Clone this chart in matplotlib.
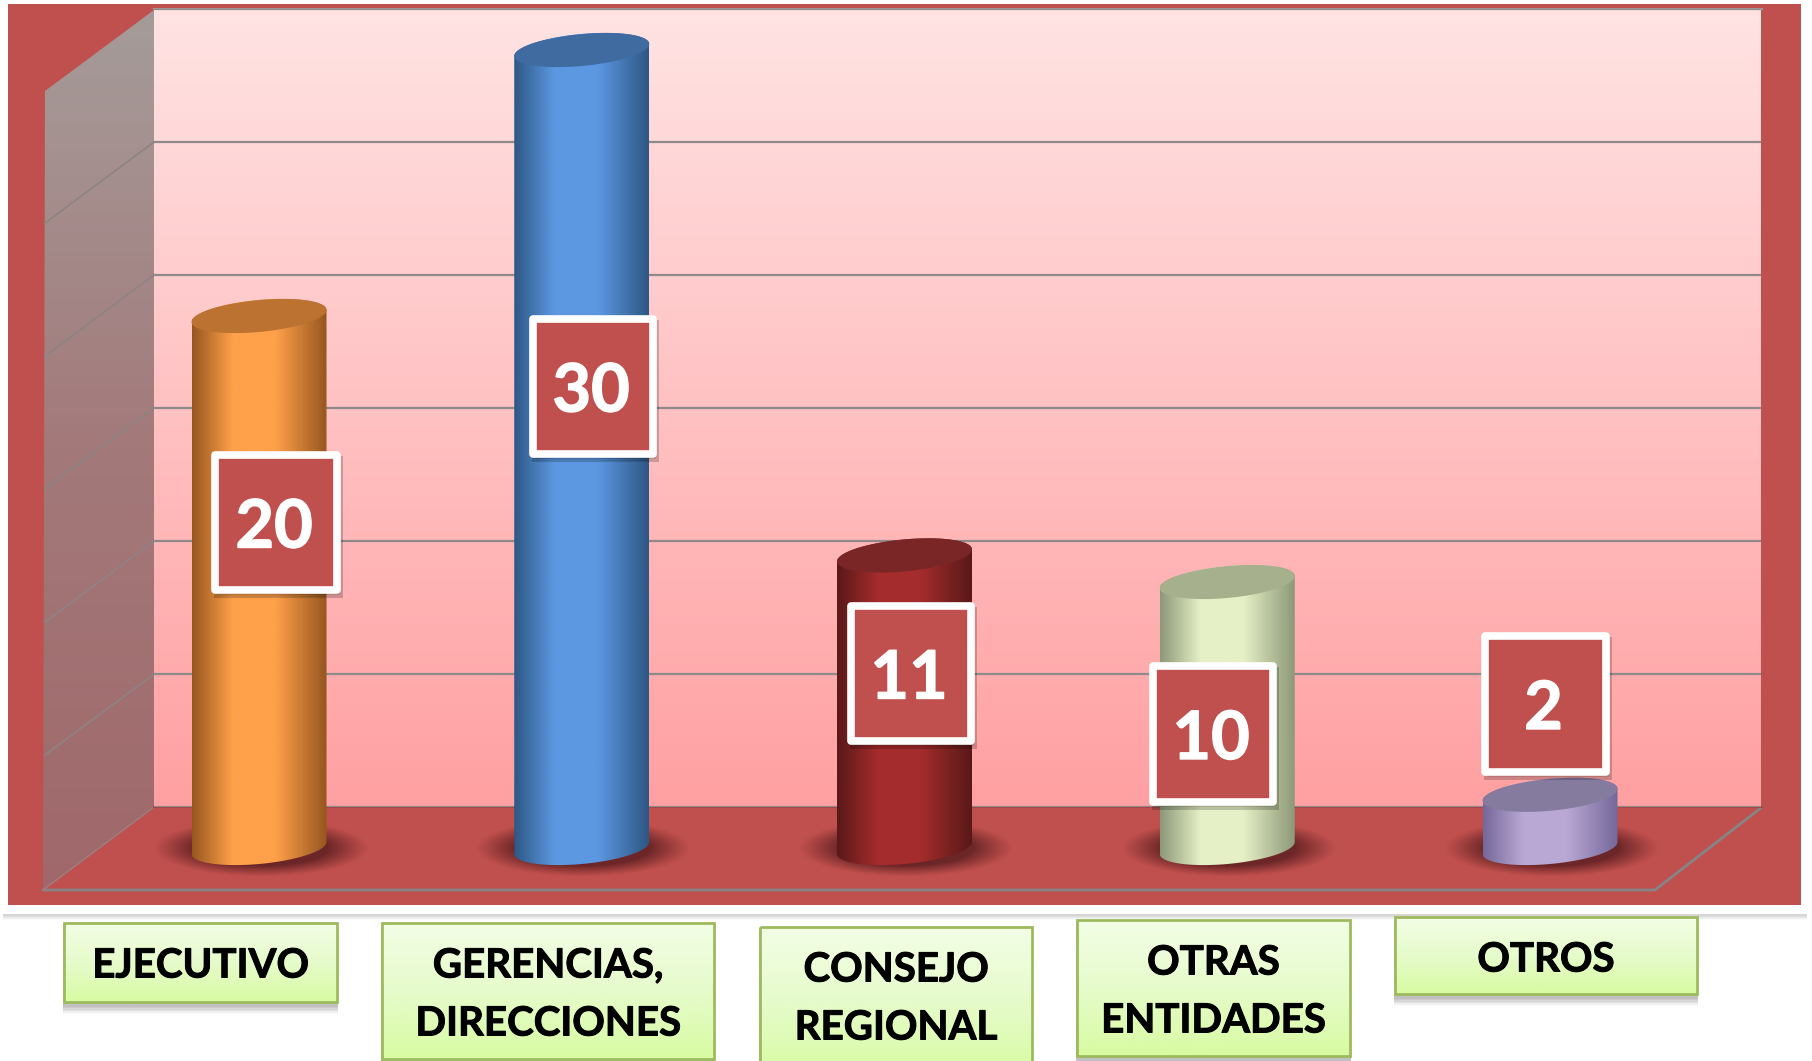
import numpy as np
import matplotlib
matplotlib.use('Agg')
import matplotlib.pyplot as plt
import matplotlib.patheffects as pe
from matplotlib.patches import Polygon, Rectangle
from matplotlib.colors import LinearSegmentedColormap

plt.rcParams['font.family'] = ['Lato', 'DejaVu Sans']

# datos
categorias = ['EJECUTIVO', 'GERENCIAS,\nDIRECCIONES', 'CONSEJO\nREGIONAL', 'OTRAS\nENTIDADES', 'OTROS']
valores = [20, 30, 11, 10, 2]
ticks = [0, 5, 10, 15, 20, 25, 30]

# colores de cada cilindro: borde, centro, tapa
bordes = ['#96561F', '#2E5784', '#5A1818', '#8C9878', '#74689A']
centros = ['#FFA04A', '#5C98E2', '#A42C2C', '#E6F0C6', '#BAA8D4']
tapas = ['#BC7230', '#3F6BA0', '#7A2626', '#A6B08D', '#857B9F']

ROJO = '#C0504D'
W, H = 1812, 1061

# cajas en pixeles (x0, x1, y0, y1)
cajas_valor = [(215, 337, 455, 590), (533, 653, 319, 454), (851, 971, 606, 741), (1153, 1273, 666, 802), (1485, 1606, 636, 772)]
cajas_cat = [(64, 337, 923, 1002), (382, 714, 923, 1059), (760, 1032, 927, 1075), (1077, 1350, 920, 1056), (1395, 1697, 917, 994)]


def axes_px(x0, x1, y0, y1):
    return [x0 / W, 1 - y1 / H, (x1 - x0) / W, (y1 - y0) / H]


fig = plt.figure(figsize=(W / 100, H / 100), dpi=100, facecolor='white')

# fondo en pixeles
bg = fig.add_axes([0, 0, 1, 1], zorder=0)
bg.set_xlim(0, W)
bg.set_ylim(H, 0)
bg.axis('off')
bg.set_autoscale_on(False)

grad = np.linspace(0, 1, 256)[:, None]
sombra = LinearSegmentedColormap.from_list('s', ['#FFFFFF', '#D2D2D2', '#FFFFFF'])
bg.imshow(grad, cmap=sombra, extent=(3, 1807, 920, 910), aspect='auto', zorder=1)
bg.add_patch(Rectangle((3, 2), 1804, 912, fc='white', ec='none', zorder=1.5))
bg.add_patch(Rectangle((8, 4), 1793, 901, fc=ROJO, ec='none', zorder=2))

# pared lateral
lat = LinearSegmentedColormap.from_list('l', ['#A59C9A', '#A3797A', '#A0686A'])
im = bg.imshow(grad, cmap=lat, extent=(43, 154, 890, 10), aspect='auto', zorder=3)
pared_lat = Polygon([(154, 10), (154, 807), (43, 890), (45, 91)], closed=True, fc='none', ec='none', zorder=3)
bg.add_patch(pared_lat)
im.set_clip_path(pared_lat)

# lineas del suelo
bg.plot([43, 1655, 1762], [890, 890, 807], color='#858585', lw=2, zorder=4, solid_capstyle='round')
bg.plot([43, 154], [890, 807], color='#9A8080', lw=1, zorder=4)
bg.plot([154, 1762], [807, 807], color='#A84644', lw=1.5, zorder=4)

# pared del fondo con su escala
pared = fig.add_axes(axes_px(154, 1761, 9, 807), zorder=1)
pared.set_autoscale_on(False)
pared.set_xlim(0, 1)
pared.set_ylim(ticks[0], ticks[-1])
fondo = LinearSegmentedColormap.from_list('f', ['#FFE3E3', '#FFA0A2'])
pared.imshow(grad, cmap=fondo, extent=(0, 1, 0, 30), aspect='auto', zorder=0)
pared.set_yticks(ticks)
pared.set_xticks([])
pared.tick_params(length=0, labelleft=False)
pared.grid(axis='y', color='#8E8A8A', lw=1.6, zorder=1)
pared.set_axisbelow(False)
for s in pared.spines.values():
    s.set_visible(False)

# lineas de la pared lateral
px_unidad = 798 / ticks[-1]
for t in ticks[1:]:
    y = 807 - t * px_unidad
    if t == ticks[-1]:
        continue
    bg.plot([154, 45], [y, y + 81], color='#8C8484', lw=1.2, zorder=4)
bg.plot([154, 1762], [9, 9], color='#A09898', lw=1.5, zorder=4)

# grafico: cada categoria es un cilindro
# el eje sobra por los lados para que no recorte los cilindros
px_x = (1550 - 259) / (len(valores) - 1)
ax = fig.add_axes(axes_px(259 - 0.8 * px_x, 1550 + 0.8 * px_x, 50 - 1.8 * px_unidad, 848 + 3 * px_unidad), zorder=2)
ax.patch.set_alpha(0)
ax.set_autoscale_on(False)
ax.set_xlim(-0.8, len(valores) - 1 + 0.8)
ax.set_ylim(-3, 31.8)
ax.axis('off')

a = 67.5 / px_x
b = 16 / px_unidad
incl = 0.089 * px_x / px_unidad

t_front = np.linspace(np.pi, 2 * np.pi, 60)
t_back = np.linspace(0, np.pi, 60)
t_all = np.linspace(0, 2 * np.pi, 120)


def elipse(cx, cy, tt):
    u = a * np.cos(tt)
    return cx + u, cy + incl * u + b * np.sin(tt)


# perfil de sombra
xx, yy = np.meshgrid(np.linspace(-1, 1, 200), np.linspace(-1, 1, 80))
rr = np.sqrt(xx ** 2 + yy ** 2)
alfa = np.clip((1 - rr) / 0.38, 0, 1) ** 1.1 * 0.72
sombra_rgba = np.zeros((80, 200, 4))
sombra_rgba[..., 0] = 0.3
sombra_rgba[..., 1] = 0.09
sombra_rgba[..., 2] = 0.1
sombra_rgba[..., 3] = alfa

perfil = np.linspace(0, 1, 256)
for i, v in enumerate(valores):
    # sombra en el suelo
    ax.imshow(sombra_rgba, extent=(i - 1.6 * a + 0.005, i + 1.6 * a + 0.005, -1.08, 1.08), aspect='auto', zorder=1,
              interpolation='bilinear')

    xb, yb = elipse(i, 0, t_front)
    xt, yt = elipse(i, v, t_back)
    cuerpo = Polygon(np.c_[np.r_[xb, xt], np.r_[yb, yt]], closed=True, fc='none', ec='none', zorder=2)
    ax.add_patch(cuerpo)
    cmap = LinearSegmentedColormap.from_list('c' + str(i), [(0, bordes[i]), (0.3, centros[i]), (0.62, centros[i]), (1, bordes[i])])
    g = ax.imshow(perfil[None, :], cmap=cmap, extent=(i - a, i + a, -1, v + 1), aspect='auto', zorder=2)
    g.set_clip_path(cuerpo)

    xe, ye = elipse(i, v, t_all)
    ax.add_patch(Polygon(np.c_[xe, ye], closed=True, fc=tapas[i], ec='none', zorder=3))

# capa superior: etiquetas
top = fig.add_axes([0, 0, 1, 1], zorder=3)
top.patch.set_alpha(0)
top.set_xlim(0, W)
top.set_ylim(H, 0)
top.axis('off')
top.set_autoscale_on(False)

for v, (x0, x1, y0, y1) in zip(valores, cajas_valor):
    top.add_patch(Rectangle((x0 + 2, y0 + 4), x1 - x0, y1 - y0, fc='#000000', alpha=0.2, ec='#000000', lw=5, zorder=1))
    top.add_patch(Rectangle((x0, y0), x1 - x0, y1 - y0, fc=ROJO, ec='white', lw=5.5, joinstyle='round', zorder=2))
    top.text((x0 + x1) / 2 - 2, (y0 + y1) / 2 + 6, str(v), color='white', fontsize=48, fontweight='bold',
             ha='center', va='center', zorder=3,
             path_effects=[pe.withStroke(linewidth=1, foreground='white')])

verde = LinearSegmentedColormap.from_list('v', ['#F3FEE6', '#E6FBCB', '#D8FBA2'])
for c, (x0, x1, y0, y1) in zip(categorias, cajas_cat):
    for k in range(5):
        top.add_patch(Rectangle((x0 - 1, y0 + 4), x1 - x0 + 2, y1 - y0 + 1 + k * 1.4, fc='#707070', alpha=0.1, ec='none', zorder=1))
    top.imshow(grad, cmap=verde, extent=(x0, x1, y1, y0), aspect='auto', zorder=2)
    top.add_patch(Rectangle((x0, y0), x1 - x0, y1 - y0, fc='none', ec='#9DBB5E', lw=2, zorder=3))
    partes = c.split('\n')
    for j, p in enumerate(partes):
        top.text((x0 + x1) / 2, y0 + 43 + j * 58, p, color='black', fontsize=29, fontweight='bold',
                 ha='center', va='center', zorder=4,
                 path_effects=[pe.withStroke(linewidth=0.7, foreground='black')])

top.set_xlim(0, W)
top.set_ylim(H, 0)

fig.savefig('out.png', dpi=100)
